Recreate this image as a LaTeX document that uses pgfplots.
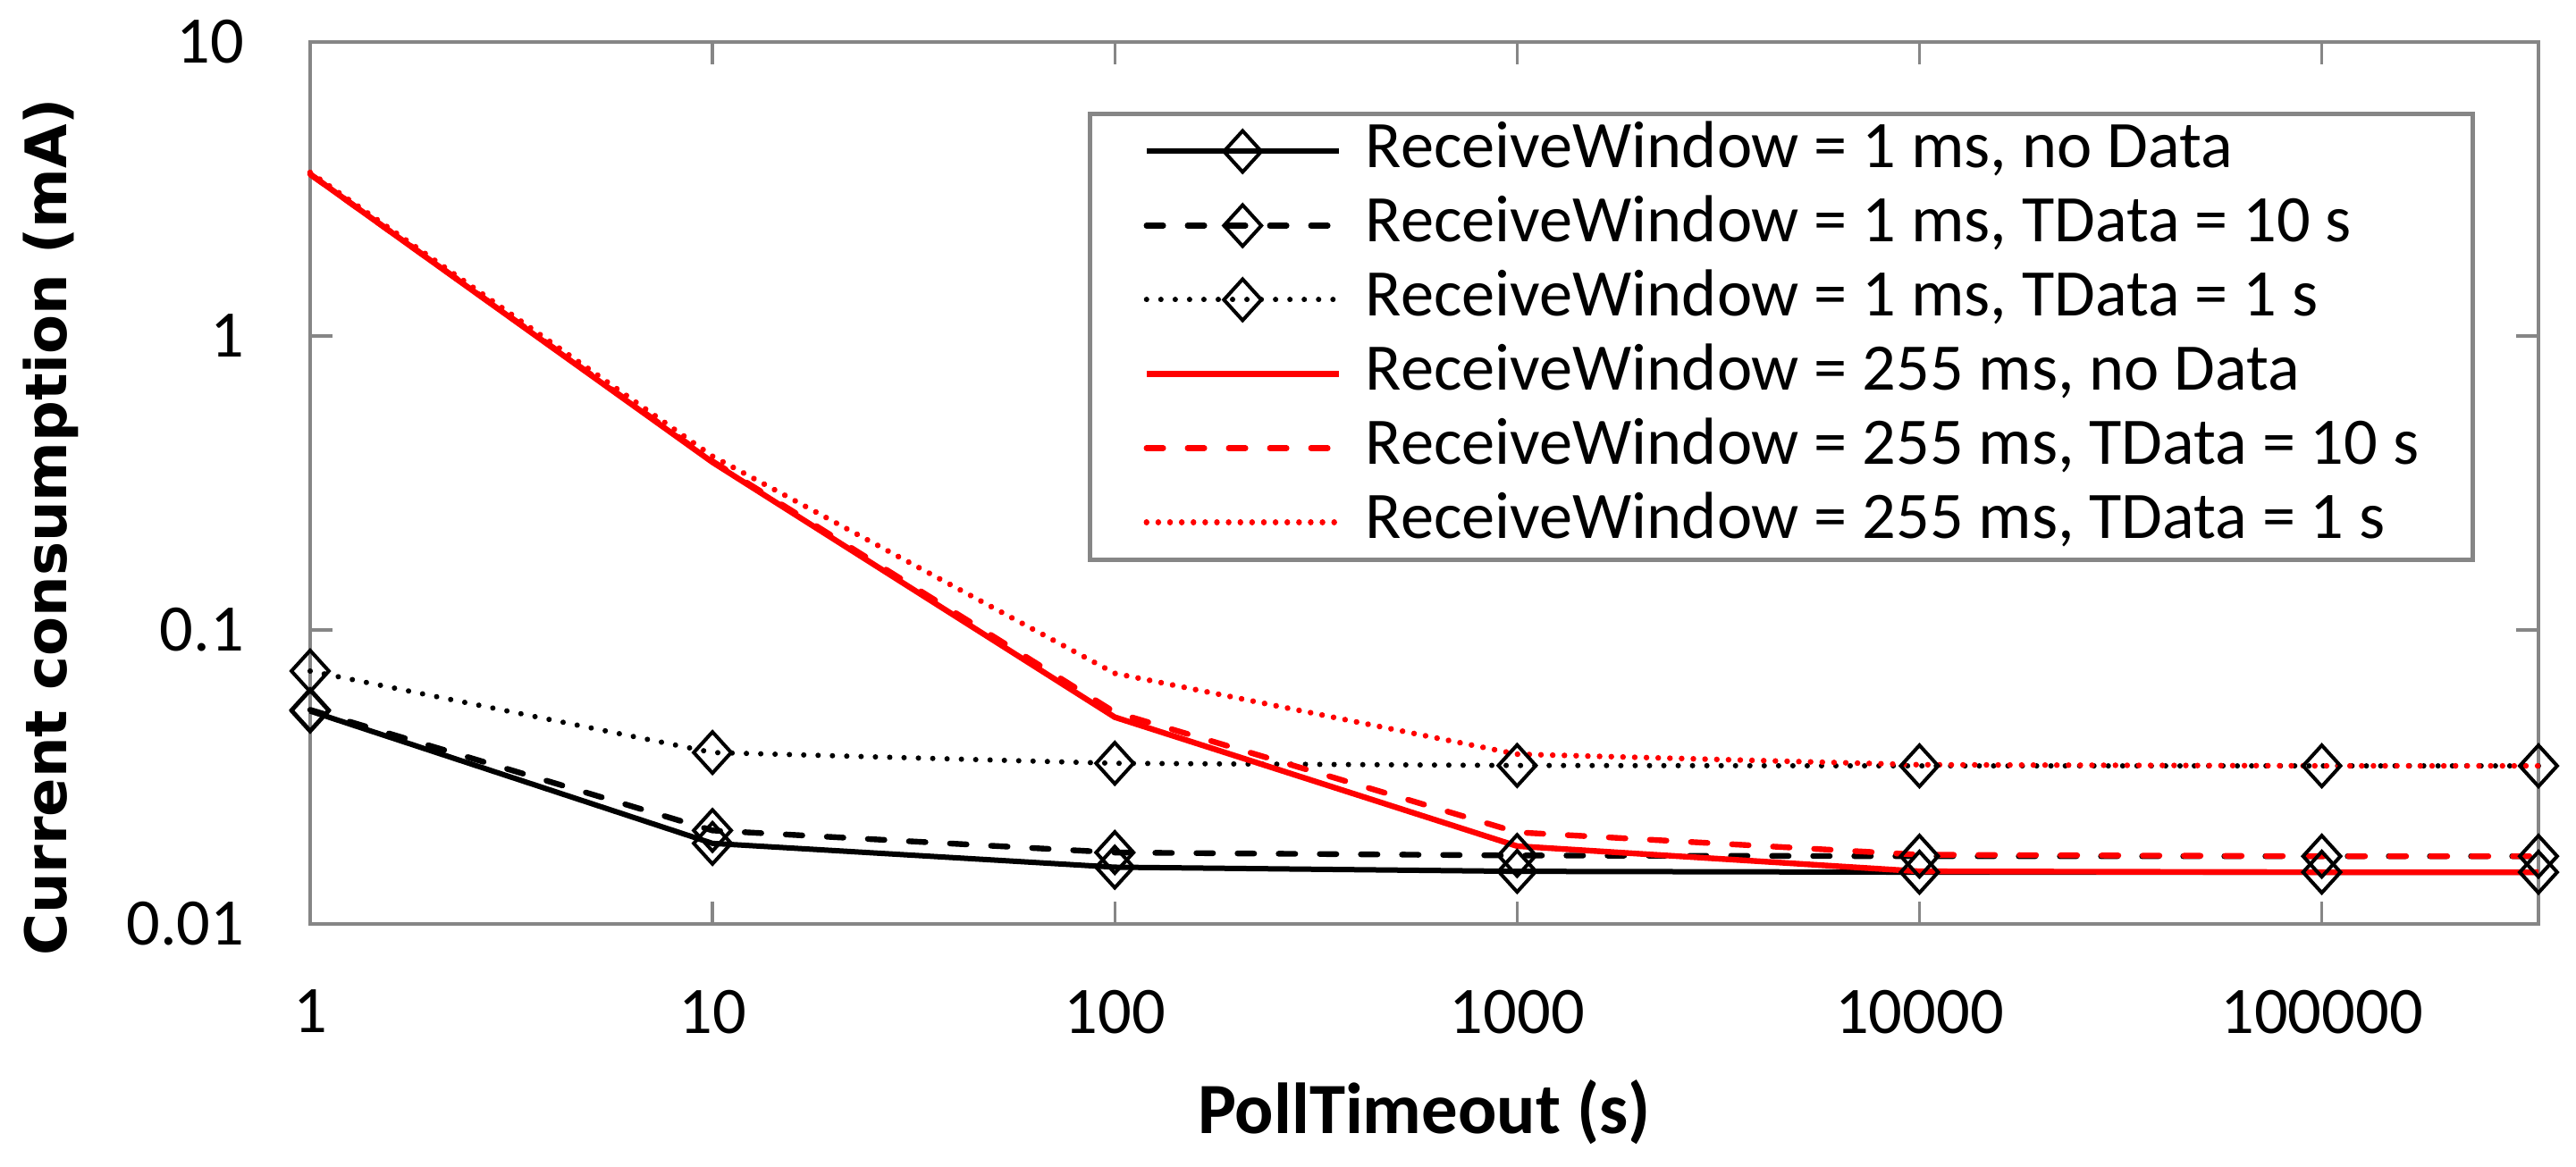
\documentclass[border=0pt]{standalone}
\usepackage{fontspec}
\setmainfont{Carlito}
\newfontfamily\labfont{DejaVu Sans}
\usepackage{pgfplots}
\pgfplotsset{compat=1.18}
\definecolor{axgray}{RGB}{134,134,134}
\definecolor{xred}{RGB}{255,0,0}

\begin{document}
\begin{tikzpicture}
\begin{axis}[
    scale only axis,
    width=623.25pt, height=246.75pt,
    xmode=log, ymode=log,
    xmin=1, xmax=345600,
    ymin=0.01, ymax=10,
    xtick={1,10,100,1000,10000,100000},
    xticklabels={1,10,100,1000,10000,100000},
    ytick={0.01,0.1,1,10},
    yticklabels={0.01,0.1,1,10},
    xminorticks=false, yminorticks=false,
    tick align=inside,
    major tick length=6.25pt,
    axis line style={draw=axgray, line width=0.85pt},
    every tick/.style={draw=axgray, line width=0.85pt},
    ticklabel style={font=\fontsize{18.6}{22}\selectfont, inner sep=0pt},
    xticklabel shift=18.25pt,
    yticklabel shift=18.25pt,
    xlabel={PollTimeout (s)},
    ylabel={Current consumption (mA)},
    every axis x label/.style={at={(axis description cs:0.5,0)}, anchor=base,
        yshift=-58.5pt, font=\fontsize{20.2}{24}\selectfont\bfseries},
    every axis y label/.style={at={(axis description cs:-0.1163,0.45)}, rotate=90,
        anchor=center, font=\labfont\bfseries\fontsize{16}{19}\selectfont},
    clip=false,
    legend cell align=left,
    legend image code/.code={%
        \draw[mark repeat=2, mark phase=2, #1]
        plot coordinates {(0pt,0pt) (26.875pt,0pt) (53.75pt,0pt)};},
    legend style={at={(axis description cs:0.349,0.921)}, anchor=north west,
        draw=axgray, line width=1.25pt, inner xsep=15pt, inner ysep=2pt,
        row sep=3.75pt, column sep=6.75pt,
        font=\fontsize{18.6}{21}\selectfont,
        nodes={inner sep=0pt, text height=13pt, text depth=4pt}},
    diam/.style={mark=square, mark size=3.7pt,
        mark options={solid, yscale=1.1, rotate=45, line width=1pt, draw=black}},
]

% RW = 1 ms
\addplot[black, line width=1.5pt, diam] coordinates {
    (1,0.0530) (10,0.0188) (100,0.0156) (1000,0.0151) (10000,0.0150) (100000,0.0150) (345600,0.0150)
};
\addlegendentry{ReceiveWindow = 1 ms, no Data}

\addplot[black, line width=1.6pt, line cap=round, dash pattern=on 4.65pt off 6.85pt, diam] coordinates {
    (1,0.0535) (10,0.0208) (100,0.0175) (1000,0.0171) (10000,0.0170) (100000,0.0170) (345600,0.0170)
};
\addlegendentry{ReceiveWindow = 1 ms, TData = 10 s}

\addplot[black, line width=1.5pt, line cap=round, dash pattern=on 0.01pt off 4pt, diam] coordinates {
    (1,0.0725) (10,0.0383) (100,0.0352) (1000,0.0346) (10000,0.0345) (100000,0.0345) (345600,0.0345)
};
\addlegendentry{ReceiveWindow = 1 ms, TData = 1 s}

% RW = 255 ms
\addplot[xred, line width=1.6pt] coordinates {
    (1,3.55) (10,0.372) (100,0.0505) (1000,0.0184) (10000,0.0151) (100000,0.0150) (345600,0.0150)
};
\addlegendentry{ReceiveWindow = 255 ms, no Data}

\addplot[xred, line width=1.6pt, line cap=round, dash pattern=on 4.65pt off 6.85pt] coordinates {
    (1,3.55) (10,0.375) (100,0.0525) (1000,0.0205) (10000,0.0172) (100000,0.0170) (345600,0.0170)
};
\addlegendentry{ReceiveWindow = 255 ms, TData = 10 s}

\addplot[xred, line width=1.6pt, line cap=round, dash pattern=on 0.01pt off 3.27pt] coordinates {
    (1,3.6) (10,0.39) (100,0.0712) (1000,0.0378) (10000,0.0348) (100000,0.0345) (345600,0.0345)
};
\addlegendentry{ReceiveWindow = 255 ms, TData = 1 s}

\end{axis}
\pgfresetboundingbox
\path (-86.75pt,-68pt) rectangle (633.75pt,258.5pt);
\end{tikzpicture}
\end{document}
